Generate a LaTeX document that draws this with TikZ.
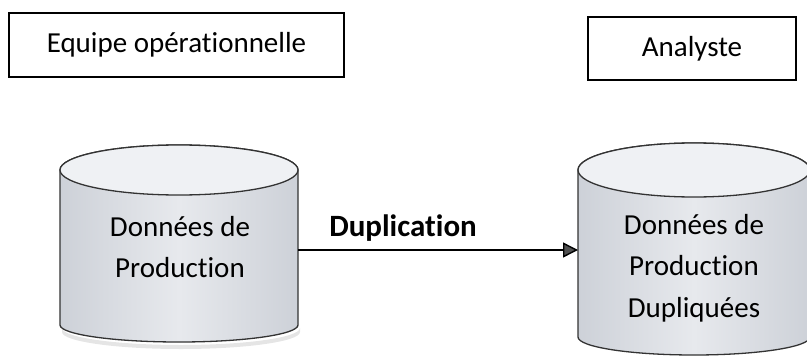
\documentclass[tikz,border=0pt]{standalone}
\usepackage{fontspec}
\setmainfont[Ligatures=NoCommon]{Carlito}
\usetikzlibrary{arrows.meta}
\definecolor{cylside}{HTML}{CDD1D8}
\definecolor{cylmid}{HTML}{E7E9ED}
\definecolor{cyltop}{HTML}{EFF1F4}
\definecolor{tipgray}{HTML}{505050}
\tikzset{
  header/.style={draw=black, line width=1.4bp, minimum height=64bp, inner sep=0pt, font=\fontsize{29bp}{34bp}\selectfont},
  cyllabel/.style={align=center, inner sep=0pt, font=\fontsize{29bp}{41.5bp}\selectfont},
  cylbody/.style={draw=black!80, line width=1.3bp, left color=cylside, right color=cylside, middle color=cylmid},
  cyltopstyle/.style={draw=black!80, line width=1.3bp, fill=cyltop},
  flow/.style={line width=1.4bp, -{Triangle[length=15bp,width=15bp,fill=tipgray]}},
}
\begin{document}
\begin{tikzpicture}[x=1bp,y=1bp]
\useasboundingbox (0,0) rectangle (807,362);
% header boxes
\node[header, minimum width=335bp] (equipe) at (176.5,317) {Equipe opérationnelle};
\node[header, minimum width=208bp, minimum height=63bp] (analyste) at (692,313.5) {Analyste};
% cylinder 1
\fill[black!10] (62,30) arc[start angle=180,end angle=360,x radius=119,y radius=17] -- (300,34) arc[start angle=0,end angle=-180,x radius=119,y radius=17] -- cycle;
\path[cylbody] (60,192) -- (60,37) arc[start angle=180,end angle=360,x radius=119,y radius=17] -- (298,192) arc[start angle=0,end angle=180,x radius=119,y radius=25] -- cycle;
\path[cyltopstyle] (179,192) ellipse[x radius=119,y radius=25];
\coordinate (c1e) at (298,112);
\node[cyllabel] (prod) at (180,115) {Données de\\Production};
% cylinder 2
\path[cylbody] (578,192) -- (578,25) arc[start angle=180,end angle=360,x radius=116,y radius=18] -- (810,192) arc[start angle=0,end angle=180,x radius=116,y radius=27] -- cycle;
\path[cyltopstyle] (694,192) ellipse[x radius=116,y radius=27];
\coordinate (c2w) at (578,112);
\node[cyllabel] (dup) at (694,94) {Données de\\Production\\Dupliquées};
% arrow
\draw[flow] (c1e) -- (c2w);
\node[font=\fontsize{31bp}{36bp}\selectfont\bfseries] (duplab) at (403,134) {Duplication};
\end{tikzpicture}
\end{document}
